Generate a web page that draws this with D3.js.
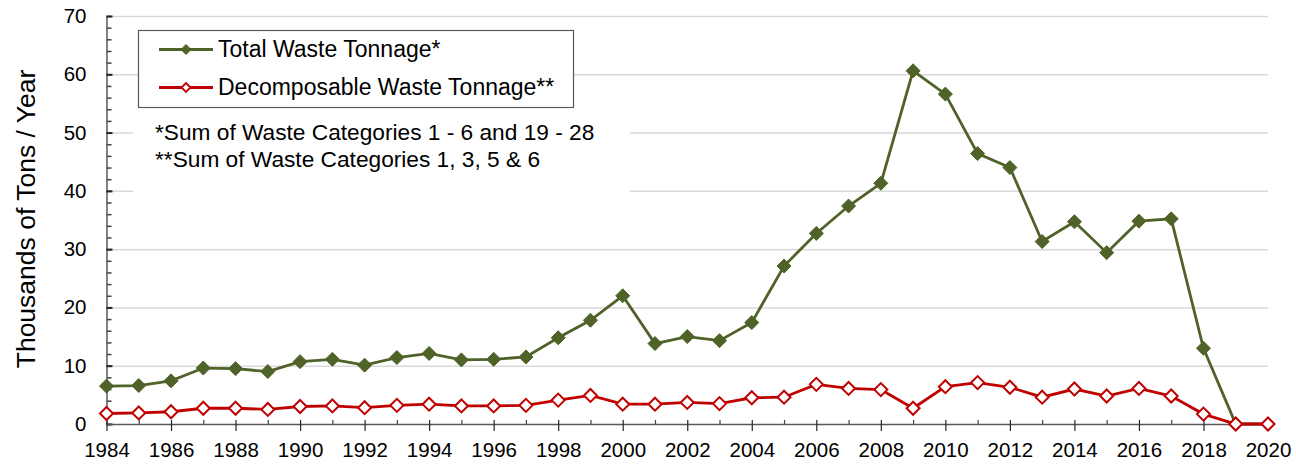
<!DOCTYPE html>
<html>
<head>
<meta charset="utf-8">
<script src="https://cdn.jsdelivr.net/npm/d3@7"></script>
<style>
  body { margin: 0; background: #fff; }
  svg { display: block; font-family: "Liberation Sans", Arial, sans-serif; }
</style>
</head>
<body>
<script>
var years = d3.range(1984, 2021);
var totalWaste = [6.5, 6.6, 7.4, 9.6, 9.5, 9.0, 10.7, 11.1, 10.1, 11.4,
                  12.1, 11.0, 11.1, 11.5, 14.8, 17.8, 22.0, 13.8, 15.0, 14.3,
                  17.4, 27.1, 32.7, 37.4, 41.3, 60.6, 56.6, 46.4, 44.0, 31.3,
                  34.7, 29.4, 34.8, 35.2, 13.0, 0, 0];
var decompWaste = [1.8, 1.9, 2.1, 2.7, 2.7, 2.5, 3.0, 3.1, 2.8, 3.2,
                   3.4, 3.1, 3.1, 3.2, 4.1, 4.9, 3.4, 3.4, 3.7, 3.5,
                   4.5, 4.6, 6.8, 6.1, 5.9, 2.7, 6.4, 7.1, 6.3, 4.6,
                   6.0, 4.8, 6.1, 4.8, 1.7, 0, 0];
var seriesNames = ["Total Waste Tonnage*", "Decomposable Waste Tonnage**"];
var notes = ["*Sum of Waste Categories 1 - 6 and 19 - 28",
             "**Sum of Waste Categories 1, 3, 5 & 6"];
var yTicks = d3.range(0, 71, 10);
var xTicks = d3.range(1984, 2021, 2);

var width = 1296;
var height = 465;
var green = "#4f6228";
var red = "#c00000";

var x = d3.scaleLinear().domain([1984, 2020]).range([106.5, 1268]);
var y = d3.scaleLinear().domain([0, 70]).range([424, 16]);

var svg = d3.select("body").append("svg")
	.attr("width", width)
	.attr("height", height);

// gridlines
svg.append("g")
	.attr("transform", "translate(106.5,0)")
	.call(d3.axisLeft(y).tickValues(yTicks.slice(1)).tickSize(-(1268 - 106.5)).tickFormat(""))
	.call(function(g) {
		g.select(".domain").remove();
		g.selectAll("line").attr("stroke", "#d9d9d9").attr("stroke-width", 1.5);
	});

// white box behind the footnotes
svg.append("rect")
	.attr("x", 133).attr("y", 118)
	.attr("width", 497).attr("height", 80)
	.attr("fill", "#fff");

svg.selectAll(".note")
	.data(notes)
	.enter()
	.append("text")
	.attr("class", "note")
	.attr("x", 155)
	.attr("y", function(d, i) { return 140 + i * 27; })
	.attr("font-size", "22.7px")
	.attr("fill", "#000")
	.text(function(d) { return d; });

// y axis
svg.append("g")
	.attr("transform", "translate(106.5,0)")
	.call(d3.axisLeft(y).tickValues(d3.range(0, 71, 2)).tickSize(-5).tickFormat(""))
	.call(function(g) {
		g.select(".domain").remove();
		g.selectAll("line").attr("stroke", "#404040").attr("stroke-width", 1.5);
	});

svg.append("g")
	.attr("transform", "translate(106.5,0)")
	.call(d3.axisLeft(y).tickValues(yTicks).tickSize(-6).tickPadding(20).tickSizeOuter(0))
	.call(function(g) {
		g.select(".domain").attr("stroke", "#595959").attr("stroke-width", 1.5);
		g.selectAll("line").attr("stroke", "#262626").attr("stroke-width", 2);
		g.selectAll("text").attr("font-size", "20.5px").attr("fill", "#000")
			.attr("font-family", "'Liberation Sans', Arial, sans-serif");
	});

// x axis
svg.append("g")
	.attr("transform", "translate(0,424)")
	.call(d3.axisBottom(x).tickValues(d3.range(1985, 2020, 2)).tickSize(-4).tickFormat(""))
	.call(function(g) {
		g.select(".domain").remove();
		g.selectAll("line").attr("stroke", "#404040").attr("stroke-width", 1.2);
	});

svg.append("g")
	.attr("transform", "translate(0,424)")
	.call(d3.axisBottom(x).tickValues(xTicks).tickFormat(d3.format("d")).tickSizeOuter(0))
	.call(function(g) {
		g.select(".domain").attr("stroke", "#595959").attr("stroke-width", 1.5);
		g.selectAll(".tick line").attr("y1", -4).attr("y2", 7)
			.attr("stroke", "#262626").attr("stroke-width", 1.2);
		g.selectAll("text").attr("y", 33).attr("dy", 0)
			.attr("font-size", "20.5px").attr("fill", "#000")
			.attr("font-family", "'Liberation Sans', Arial, sans-serif");
	});

// y axis title
svg.append("text")
	.attr("transform", "translate(35,219) rotate(-90)")
	.attr("text-anchor", "middle")
	.attr("font-size", "26.5px")
	.attr("fill", "#000")
	.text("Thousands of Tons / Year");

// series
var line = d3.line()
	.x(function(d, i) { return x(years[i]); })
	.y(function(d) { return y(d); });

function diamond(s) {
	return "M0," + (-s) + "L" + s + ",0L0," + s + "L" + (-s) + ",0Z";
}

svg.append("path")
	.datum(totalWaste)
	.attr("d", line)
	.attr("fill", "none")
	.attr("stroke", green)
	.attr("stroke-width", 2.8);

svg.selectAll(".tot")
	.data(totalWaste)
	.enter()
	.append("path")
	.attr("class", "tot")
	.attr("transform", function(d, i) { return "translate(" + x(years[i]) + "," + y(d) + ")"; })
	.attr("d", diamond(7))
	.attr("fill", green)
	.attr("stroke", green)
	.attr("stroke-width", 1);

svg.append("path")
	.datum(decompWaste)
	.attr("d", line)
	.attr("fill", "none")
	.attr("stroke", red)
	.attr("stroke-width", 2.8);

svg.selectAll(".dec")
	.data(decompWaste)
	.enter()
	.append("path")
	.attr("class", "dec")
	.attr("transform", function(d, i) { return "translate(" + x(years[i]) + "," + y(d) + ")"; })
	.attr("d", diamond(6.5))
	.attr("fill", "#fff")
	.attr("stroke", red)
	.attr("stroke-width", 2);

// legend
var legend = svg.append("g");
legend.append("rect")
	.attr("x", 138.5).attr("y", 30.5)
	.attr("width", 435).attr("height", 77)
	.attr("fill", "#fff")
	.attr("stroke", "#595959")
	.attr("stroke-width", 1.2);

var legendColors = [green, red];
var legendRows = legend.selectAll(".row")
	.data(seriesNames)
	.enter()
	.append("g")
	.attr("class", "row")
	.attr("transform", function(d, i) { return "translate(0," + (i === 0 ? 49.5 : 87.5) + ")"; });

legendRows.append("line")
	.attr("x1", 159).attr("x2", 213)
	.attr("stroke", function(d, i) { return legendColors[i]; })
	.attr("stroke-width", 2.8);

legendRows.append("path")
	.attr("transform", "translate(186,0)")
	.attr("d", function(d, i) { return diamond(i === 0 ? 5 : 4.5); })
	.attr("fill", function(d, i) { return i === 0 ? green : "#fff"; })
	.attr("stroke", function(d, i) { return legendColors[i]; })
	.attr("stroke-width", function(d, i) { return i === 0 ? 1 : 1.8; });

legendRows.append("text")
	.attr("x", 218)
	.attr("y", 7.5)
	.attr("font-size", "23px")
	.attr("fill", "#000")
	.text(function(d) { return d; });
</script>
</body>
</html>
